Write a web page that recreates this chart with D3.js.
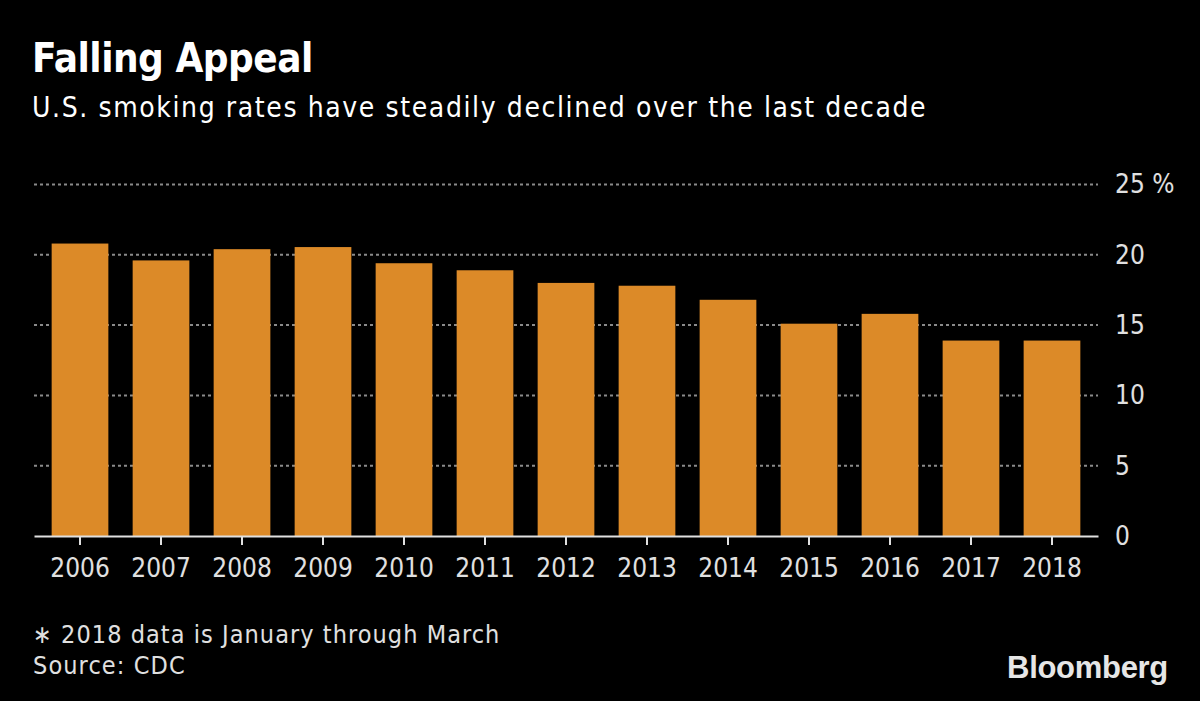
<!DOCTYPE html>
<html>
<head>
<meta charset="utf-8">
<script src="https://cdn.jsdelivr.net/npm/d3@7"></script>
<style>
  html, body { margin: 0; padding: 0; background: #000; }
  svg { display: block; }
  text { font-family: "Liberation Sans Narrow", "DejaVu Sans Condensed", "Liberation Sans", sans-serif; }
</style>
</head>
<body>
<svg id="chart" width="1200" height="701"></svg>
<script>
const years = ["2006","2007","2008","2009","2010","2011","2012","2013","2014","2015","2016","2017","2018"];
const rates = [20.8, 19.6, 20.4, 20.55, 19.4, 18.9, 18.0, 17.8, 16.8, 15.1, 15.8, 13.9, 13.9];
const yTicks = [0, 5, 10, 15, 20, 25];

const title = "Falling Appeal";
const subtitle = "U.S. smoking rates have steadily declined over the last decade";
const note = "\u2217 2018 data is January through March";
const source = "Source: CDC";

const svg = d3.select("#chart");
svg.append("rect").attr("width", 1200).attr("height", 701).attr("fill", "#000");

const x = d3.scaleBand().domain(years).range([34, 1098]).paddingInner(0.3).paddingOuter(0.218);
const y = d3.scaleLinear().domain([0, 25]).range([536, 184.5]);

// gridlines
svg.append("g").selectAll("line").data(yTicks.filter(d => d > 0)).join("line")
  .attr("x1", 34).attr("x2", 1098)
  .attr("y1", d => y(d)).attr("y2", d => y(d))
  .attr("stroke", "#8a8a8a").attr("stroke-width", 2).attr("stroke-dasharray", "3,3");

// bars
svg.append("g").selectAll("rect").data(years).join("rect")
  .attr("x", d => x(d)).attr("width", x.bandwidth())
  .attr("y", (d, i) => y(rates[i])).attr("height", (d, i) => y(0) - y(rates[i]))
  .attr("fill", "#dc8a28");

// x axis
const xAxis = svg.append("g").attr("transform", `translate(0,${y(0)})`)
  .call(d3.axisBottom(x).tickSize(9).tickPadding(14).tickSizeOuter(0));
xAxis.select(".domain").attr("stroke", "#e0e0e0").attr("stroke-width", 2);
xAxis.selectAll(".tick line").attr("stroke", "#e0e0e0").attr("stroke-width", 2);
xAxis.selectAll(".tick text").attr("fill", "#e0e0e0").attr("font-size", 26)
  .style("font-family", "'Liberation Sans Narrow', 'DejaVu Sans Condensed', sans-serif");

// y axis (right)
const yAxis = svg.append("g").attr("transform", `translate(1098,0)`)
  .call(d3.axisRight(y).tickValues(yTicks).tickSize(0).tickPadding(17)
    .tickFormat(d => d === 25 ? "25 %" : d));
yAxis.select(".domain").remove();
yAxis.selectAll(".tick text").attr("fill", "#e0e0e0").attr("font-size", 26)
  .style("font-family", "'Liberation Sans Narrow', 'DejaVu Sans Condensed', sans-serif");

// titles
svg.append("text").attr("x", 32).attr("y", 72).text(title)
  .attr("fill", "#fff").attr("font-size", 40).attr("font-weight", "bold").attr("letter-spacing", -0.5)
  .style("font-family", "'DejaVu Sans Condensed', 'Liberation Sans', sans-serif");
svg.append("text").attr("x", 32).attr("y", 117).text(subtitle)
  .attr("fill", "#fff").attr("font-size", 28).attr("letter-spacing", 1.6);

// footer
svg.append("text").attr("x", 33).attr("y", 643).text(note).attr("fill", "#e0e0e0").attr("font-size", 25).attr("letter-spacing", 1.05);
svg.append("text").attr("x", 33).attr("y", 674).text(source).attr("fill", "#e0e0e0").attr("font-size", 25).attr("letter-spacing", 1.1);

svg.append("text").attr("x", 1168).attr("y", 678).attr("text-anchor", "end").text("Bloomberg")
  .attr("fill", "#e6e6e6").attr("font-size", 31).attr("font-weight", "bold").attr("letter-spacing", -0.3)
  .style("font-family", "'Liberation Sans', Arial, sans-serif");
</script>
</body>
</html>
